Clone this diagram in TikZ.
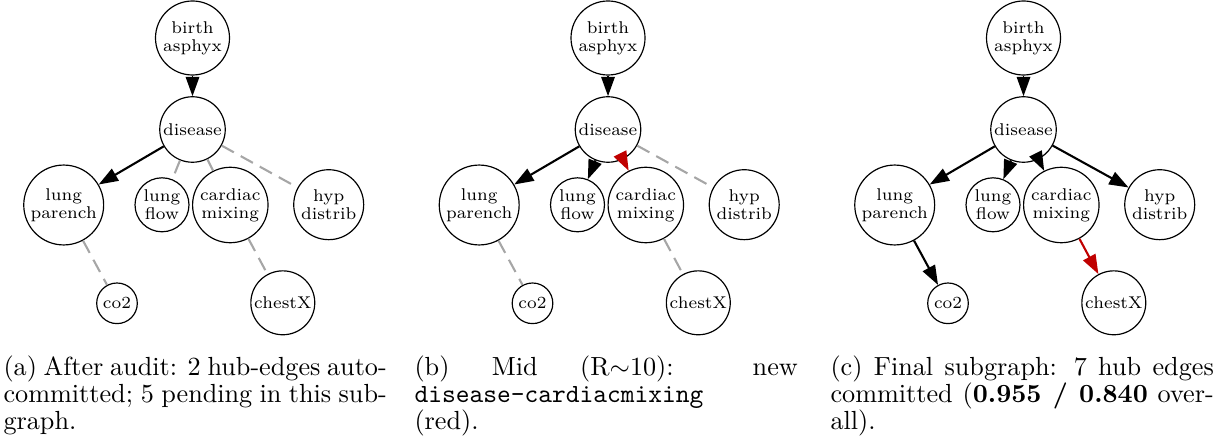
\documentclass[tikz,border=0pt]{standalone}
\usetikzlibrary{arrows.meta}

\definecolor{newred}{RGB}{192,0,0}
\newcommand\nodefont{\fontsize{6.5}{6.8}\selectfont}
\newcommand\capfont{\fontsize{10}{10.3}\selectfont}

\tikzset{
  var/.style={circle, draw, line width=0.45pt, inner sep=0pt, align=center, font=\nodefont},
  arrowtip/.style={-{Triangle[length=7.4pt,width=5.2pt]}},
  fixed/.style={arrowtip, line width=0.55pt},
  hub/.style={arrowtip, line width=0.8pt},
  fresh/.style={hub, draw=newred},
  pending/.style={draw=black!35, line width=0.8pt, dash pattern=on 5.3pt off 3pt},
  captext/.style={anchor=base west, inner sep=0pt, text width=146.3pt, align=justify, font=\capfont},
}

% the eight variables of the sub-network, placed in pixel-like units
\newcommand\bnnodes{%
  \node[var, minimum size=28.25pt] (birth)       at (192.5,38)    {birth\\asphyx};
  \node[var, minimum size=25pt]    (disease)     at (192.5,129.5) {disease};
  \node[var, minimum size=30.5pt]  (lungparench) at (63.7,205)    {lung\\parench};
  \node[var, minimum size=20.6pt]  (lungflow)    at (162,204.8)   {lung\\flow};
  \node[var, minimum size=28.8pt]  (cardiac)     at (230.3,205)   {cardiac\\mixing};
  \node[var, minimum size=26.7pt]  (hyp)         at (328.7,204.7) {hyp\\distrib};
  \node[var, minimum size=15.5pt]  (co2)         at (117,303.3)   {co2};
  \node[var, minimum size=24.4pt]  (chestx)      at (282.8,302.8) {chestX};
}

\begin{document}
\begin{tikzpicture}[x=0.3817pt, y=-0.3817pt]
\useasboundingbox (0,0) rectangle (1226,448);

% (a) after the audit
\begin{scope}[name prefix=a-]
  \bnnodes
  \draw[fixed] (birth) -- (disease);
  \draw[hub] (disease) -- (lungparench);
  \draw[pending] (disease) -- (lungflow);
  \draw[pending] (disease) -- (cardiac);
  \draw[pending] (disease) -- (hyp);
  \draw[pending] (lungparench) -- (co2);
  \draw[pending] (cardiac) -- (chestx);
\end{scope}

% (b) midway
\begin{scope}[shift={(415.5,0)}, name prefix=b-]
  \bnnodes
  \draw[fixed] (birth) -- (disease);
  \draw[hub] (disease) -- (lungparench);
  \draw[hub] (disease) -- (lungflow);
  \draw[fresh] (disease) -- (cardiac);
  \draw[pending] (disease) -- (hyp);
  \draw[pending] (lungparench) -- (co2);
  \draw[pending] (cardiac) -- (chestx);
\end{scope}

% (c) final subgraph
\begin{scope}[shift={(831,0)}, name prefix=c-]
  \bnnodes
  \draw[fixed] (birth) -- (disease);
  \draw[hub] (disease) -- (lungparench);
  \draw[hub] (disease) -- (lungflow);
  \draw[hub] (disease) -- (cardiac);
  \draw[hub] (disease) -- (hyp);
  \draw[hub] (lungparench) -- (co2);
  \draw[fresh] (cardiac) -- (chestx);
\end{scope}

% captions
\node[captext] (capa) at (3,375.5) {(a) After audit: 2 hub-edges auto-\linebreak committed; 5 pending in this sub-\linebreak graph.};
\node[captext] (capb) at (414,375.5) {(b) Mid (R$\sim$10): new\linebreak \texttt{disease-cardiacmixing}\newline (red).};
\node[captext] (capc) at (830,375.5) {(c) Final subgraph: 7 hub edges\linebreak committed (\textbf{0.955 / 0.840} over-\linebreak all).};
\end{tikzpicture}
\end{document}
